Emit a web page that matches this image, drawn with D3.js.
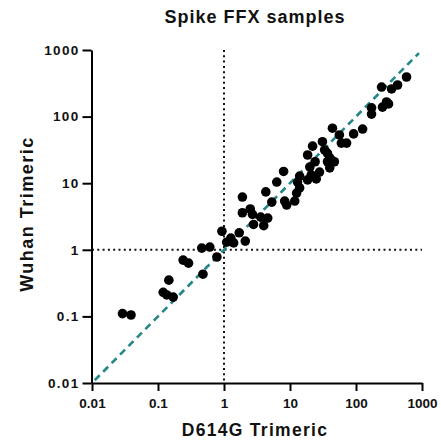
<!DOCTYPE html>
<html>
<head>
<meta charset="utf-8">
<script src="https://cdn.jsdelivr.net/npm/d3@7"></script>
<style>
  body { margin: 0; background: #fff; }
  svg { display: block; font-family: 'Liberation Sans', Arial, sans-serif; }
</style>
</head>
<body>
<svg id="chart"></svg>
<script>
// D614G Trimeric (x) vs Wuhan Trimeric (y)
const d614g = [
  0.029, 0.039, 0.146, 0.12, 0.136, 0.17, 0.24, 0.29, 0.48, 0.46,
  0.61, 0.78, 0.93, 1.1, 1.4, 1.7, 2.1, 1.27, 1.9, 1.9,
  2.5, 2.7, 2.8, 3.6, 4.0, 4.6, 4.3, 5.3, 6.3, 8.0,
  8.3, 8.9, 11.8, 12.6, 14, 13, 14, 18.5, 18.5, 20,
  21, 24, 25, 28, 22, 31, 33.5, 37, 40, 43,
  47, 37, 40, 44, 56, 60, 72, 92, 126, 172,
  172, 244, 252, 290, 311, 346, 426, 583
];
const wuhan = [
  0.11, 0.105, 0.35, 0.23, 0.21, 0.195, 0.70, 0.63, 0.43, 1.06,
  1.10, 0.78, 1.9, 1.3, 1.27, 1.8, 1.35, 1.5, 6.2, 3.6,
  4.1, 3.4, 2.4, 3.1, 2.3, 3.0, 7.4, 5.2, 10.4, 15,
  5.4, 4.7, 5.4, 7.1, 8.5, 10.4, 12.8, 26.5, 11.2, 17.5,
  13.3, 21, 11.6, 14.7, 36, 42, 31.5, 28, 24, 22,
  21, 21, 17, 67, 53, 40, 40, 55, 65, 135,
  109, 278, 139, 166, 155, 260, 298, 393
];
const tickValues = [0.01, 0.1, 1, 10, 100, 1000];
const tickLabels = ['0.01', '0.1', '1', '10', '100', '1000'];
const identityLine = [0.011, 900];
const cutoff = 1;

const points = d614g.map((x, i) => ({ x: x, y: wuhan[i] }));

const width = 441;
const height = 444;
const plot = { left: 92, right: 422, top: 50, bottom: 383 };

const svg = d3.select('#chart')
  .attr('width', width)
  .attr('height', height);

const x = d3.scaleLog()
  .domain([0.01, 1000])
  .range([plot.left, plot.right]);

const y = d3.scaleLog()
  .domain([0.01, 1000])
  .range([plot.bottom, plot.top]);

const label = (d) => tickLabels[tickValues.indexOf(d)];

// cutoff lines at 1
svg.append('line')
  .attr('x1', x(cutoff)).attr('x2', x(cutoff))
  .attr('y1', plot.top).attr('y2', plot.bottom)
  .attr('stroke', '#111')
  .attr('stroke-width', 2)
  .attr('stroke-dasharray', '2,3.3');

svg.append('line')
  .attr('x1', plot.left).attr('x2', plot.right)
  .attr('y1', y(cutoff)).attr('y2', y(cutoff))
  .attr('stroke', '#111')
  .attr('stroke-width', 2)
  .attr('stroke-dasharray', '2,3.3');

// line of identity
svg.append('line')
  .attr('x1', x(identityLine[0])).attr('y1', y(identityLine[0]))
  .attr('x2', x(identityLine[1])).attr('y2', y(identityLine[1]))
  .attr('stroke', '#238788')
  .attr('stroke-width', 2.6)
  .attr('stroke-dasharray', '7,5');

svg.append('g')
  .selectAll('circle')
  .data(points)
  .enter()
  .append('circle')
  .attr('cx', d => x(d.x))
  .attr('cy', d => y(d.y))
  .attr('r', 4.8)
  .attr('fill', '#000');

const xAxis = svg.append('g')
  .attr('transform', `translate(0,${plot.bottom})`)
  .call(d3.axisBottom(x)
    .tickValues(tickValues)
    .tickFormat(label)
    .tickSize(8)
    .tickSizeOuter(0)
    .tickPadding(7));

const yAxis = svg.append('g')
  .attr('transform', `translate(${plot.left - 0.5},0)`)
  .call(d3.axisLeft(y)
    .tickValues(tickValues)
    .tickFormat(label)
    .tickSize(9)
    .tickSizeOuter(0)
    .tickPadding(3));

[xAxis, yAxis].forEach(axis => {
  axis.select('.domain').attr('stroke', '#000').attr('stroke-width', 2);
  axis.selectAll('.tick line').attr('stroke', '#000').attr('stroke-width', 2);
  axis.selectAll('.tick text')
    .attr('fill', '#111')
    .attr('font-family', "'Liberation Sans', Arial, sans-serif")
    .attr('font-weight', 'bold')
    .attr('font-size', 13.5);
});
yAxis.selectAll('.tick text').attr('letter-spacing', 1.3);

svg.append('text')
  .attr('x', 255)
  .attr('y', 23)
  .attr('text-anchor', 'middle')
  .attr('font-weight', 'bold')
  .attr('font-size', 18)
  .attr('letter-spacing', 1)
  .attr('fill', '#111')
  .text('Spike FFX samples');

svg.append('text')
  .attr('x', 255)
  .attr('y', 436)
  .attr('text-anchor', 'middle')
  .attr('font-weight', 'bold')
  .attr('font-size', 17.5)
  .attr('letter-spacing', 1.3)
  .attr('fill', '#111')
  .text('D614G Trimeric');

svg.append('text')
  .attr('transform', 'translate(33,214) rotate(-90)')
  .attr('text-anchor', 'middle')
  .attr('font-weight', 'bold')
  .attr('font-size', 18)
  .attr('letter-spacing', 1.5)
  .attr('fill', '#111')
  .text('Wuhan Trimeric');
</script>
</body>
</html>
